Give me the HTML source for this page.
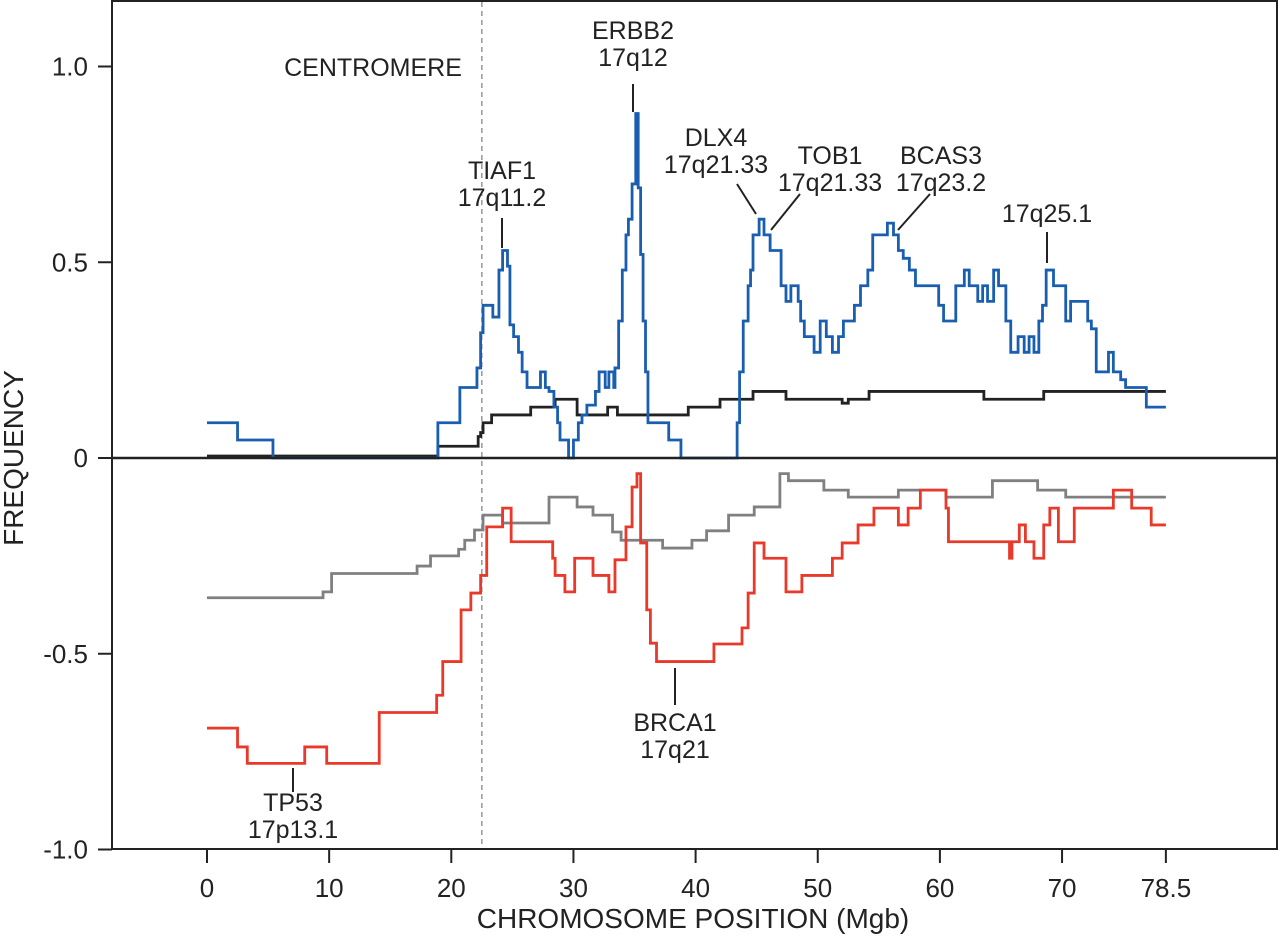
<!DOCTYPE html>
<html><head><meta charset="utf-8"><style>
html,body{margin:0;padding:0;background:#fff;}
svg{display:block;font-family:"Liberation Sans",Arial,sans-serif;}
text{fill:#222;}
</style></head><body>
<svg id="chart" width="1280" height="941" viewBox="0 0 1280 941">
<g id="annot"></g>
</svg>
<script>
// x positions (Mb) where each step starts, with step values
const blueX=[0,2.5,5.4,18.9,20.7,22.1,22.4,22.6,23.4,23.9,24.2,24.6,24.8,25.1,25.5,25.8,26.2,27.3,27.7,28,28.4,28.7,28.9,29.6,30,30.4,30.7,31.1,31.8,32.1,32.6,32.9,33.3,33.4,33.7,34,34.3,34.5,34.8,35.1,35.3,35.5,35.7,35.9,36.1,37.8,38.8,43.4,43.6,43.9,44.3,44.5,44.7,45.2,45.6,46.1,47,47.4,47.8,48.4,48.6,48.9,49.7,50.2,50.7,51.2,51.7,52.1,53,53.5,54.1,54.5,55.7,56.2,56.6,57,57.5,58,59.9,60.3,61.3,62,62.4,63.1,63.5,63.9,64.4,64.8,65.4,65.8,66.4,66.9,67.3,67.7,68.1,68.4,68.7,69.3,70.3,70.7,72.1,72.4,72.8,73.8,74.2,74.8,75.2,76.9];
const blueY=[0.09,0.046,0,0.09,0.18,0.23,0.32,0.39,0.36,0.48,0.53,0.49,0.34,0.31,0.27,0.22,0.18,0.22,0.18,0.17,0.13,0.09,0.046,0,0.046,0.09,0.11,0.135,0.17,0.22,0.18,0.22,0.18,0.23,0.35,0.48,0.57,0.61,0.70,0.88,0.69,0.52,0.35,0.22,0.09,0.046,0,0.09,0.22,0.35,0.44,0.48,0.57,0.61,0.57,0.53,0.44,0.40,0.44,0.40,0.35,0.31,0.27,0.35,0.31,0.27,0.31,0.35,0.39,0.44,0.48,0.57,0.60,0.57,0.53,0.51,0.48,0.44,0.39,0.35,0.44,0.48,0.44,0.40,0.44,0.40,0.48,0.44,0.35,0.27,0.31,0.27,0.31,0.27,0.35,0.39,0.48,0.44,0.35,0.40,0.35,0.33,0.22,0.27,0.22,0.20,0.18,0.13];
const blackX=[0,18.9,22.2,22.4,22.6,23.3,26.5,28.5,30.3,32.8,33.6,39.4,42,44.7,47.4,52,52.5,54.2,63.6,68.5];
const blackY=[0.005,0.03,0.055,0.065,0.09,0.11,0.13,0.15,0.11,0.13,0.11,0.13,0.15,0.17,0.15,0.14,0.15,0.17,0.15,0.17];
const grayX=[0,9.5,10.2,17.2,18.3,20.6,21.1,21.9,22.6,24.2,28,30.3,31.6,33.2,33.9,37.3,39.7,40.9,42.7,44.8,46.9,47.6,50.5,52.5,56.6,60.5,64.3,68,70.3];
const grayY=[-0.357,-0.342,-0.295,-0.276,-0.25,-0.233,-0.21,-0.184,-0.146,-0.166,-0.10,-0.125,-0.146,-0.189,-0.21,-0.23,-0.21,-0.186,-0.146,-0.125,-0.04,-0.058,-0.082,-0.10,-0.082,-0.10,-0.058,-0.082,-0.10];
const redX=[0,2.5,3.3,8,9.8,14.1,18.8,19.3,20.8,21.6,22.4,22.9,24.2,24.9,28.3,28.5,29.3,30.1,31.6,32.9,33.4,34.3,34.8,35.2,35.5,36,36.3,36.8,41.5,43.8,44.3,44.8,45.6,47.4,48.7,51.2,52,53.3,54.6,56.6,57.4,58.4,60.5,60.7,65.7,65.9,66.5,67,67.7,68.5,69,69.7,71,74.2,75.7,77.3];
const redY=[-0.69,-0.738,-0.78,-0.738,-0.78,-0.65,-0.606,-0.52,-0.388,-0.345,-0.30,-0.176,-0.128,-0.214,-0.256,-0.30,-0.342,-0.256,-0.30,-0.342,-0.26,-0.176,-0.074,-0.04,-0.217,-0.388,-0.473,-0.52,-0.475,-0.434,-0.345,-0.217,-0.256,-0.342,-0.30,-0.256,-0.217,-0.171,-0.128,-0.171,-0.128,-0.082,-0.128,-0.214,-0.256,-0.214,-0.171,-0.214,-0.256,-0.171,-0.128,-0.214,-0.128,-0.082,-0.128,-0.171];
const xEnd=78.5;
const xTicks=[0,10,20,30,40,50,60,70,78.5];
const xTickLabels=["0","10","20","30","40","50","60","70","78.5"];
const yTicks=[1,0.5,0,-0.5,-1];
const yTickLabels=["1.0","0.5","0","-0.5","-1.0"];
const centromere=22.5;

const NS="http://www.w3.org/2000/svg";
const svg=document.getElementById('chart');
const X=v=>207+v*12.215;
const Y=v=>458-v*391.5;
function mk(tag,attrs,parent){const e=document.createElementNS(NS,tag);for(const k in attrs)e.setAttribute(k,attrs[k]);(parent||svg).appendChild(e);return e;}

const frame=mk('rect',{x:112,y:1,width:1165,height:848,fill:'none',stroke:'#222','stroke-width':2});



const cen=mk('line',{x1:X(centromere),x2:X(centromere),y1:2,y2:848,stroke:'#888','stroke-width':1.3,'stroke-dasharray':'5,4'});



yTicks.forEach((v,i)=>{
  const t=mk('line',{x1:98,x2:112,y1:Y(v),y2:Y(v),stroke:'#222','stroke-width':2});
  
  
  const l=mk('text',{x:88,y:Y(v)+9,'text-anchor':'end','font-size':26});
  l.textContent=yTickLabels[i];
  
  
});
xTicks.forEach((v,i)=>{
  const t=mk('line',{x1:X(v),x2:X(v),y1:849,y2:863,stroke:'#222','stroke-width':2});
  
  
  const l=mk('text',{x:X(v),y:897,'text-anchor':'middle','font-size':26});
  l.textContent=xTickLabels[i];
  
  
});
const xt=mk('text',{x:693,y:928,'text-anchor':'middle','font-size':28});
xt.textContent='CHROMOSOME POSITION (Mgb)';


const yt=mk('text',{x:23,y:458,'text-anchor':'middle','font-size':28,transform:'rotate(-90 23 458)'});
yt.textContent='FREQUENCY';



function stepPath(xs,ys){
  let d='M'+X(xs[0])+','+Y(ys[0]);
  for(let i=1;i<xs.length;i++){d+=' H'+X(xs[i])+' V'+Y(ys[i]);}
  d+=' H'+X(xEnd);return d;
}
function series(xs,ys,color,name){
  const p=mk('path',{d:stepPath(xs,ys),fill:'none',stroke:color,'stroke-width':2.8,'stroke-linejoin':'miter'});
  
  
}
series(grayX,grayY,'#808080','gray-loss-line');
series(redX,redY,'#e8392a','red-loss-line');
series(blackX,blackY,'#222','black-gain-line');
series(blueX,blueY,'#1a5eb0','blue-gain-line');

const zero=mk('line',{x1:112,x2:1277,y1:Y(0),y2:Y(0),stroke:'#222','stroke-width':2.6});



const ann=document.getElementById('annot');svg.appendChild(ann);
function label(lines,cx,y0,name){
  lines.forEach((s,i)=>{
    const t=mk('text',{x:cx,y:y0+i*27,'text-anchor':'middle','font-size':25},ann);
    t.textContent=s;
    
    
  });
}
function pointer(x1,y1,x2,y2){
  const l=mk('line',{x1,y1,x2,y2,stroke:'#222','stroke-width':2},ann);
  
  
}
label(['CENTROMERE'],373,76,'centromere-label');
label(['ERBB2','17q12'],633,39,'erbb2-label'); pointer(633,84,633,112);
label(['TIAF1','17q11.2'],502,179,'tiaf1-label'); pointer(502,218,502,248);
label(['DLX4','17q21.33'],716,146,'dlx4-label'); pointer(737,184,756,214);
label(['TOB1','17q21.33'],830,164,'tob1-label'); pointer(800,194,771,230);
label(['BCAS3','17q23.2'],941,164,'bcas3-label'); pointer(930,194,898,230);
label(['17q25.1'],1047,222,'17q25-label'); pointer(1047,232,1047,263);
label(['BRCA1','17q21'],675,731,'brca1-label'); pointer(675,668,675,705);
label(['TP53','17p13.1'],293,811,'tp53-label'); pointer(293,768,293,792);
</script>
</body></html>
